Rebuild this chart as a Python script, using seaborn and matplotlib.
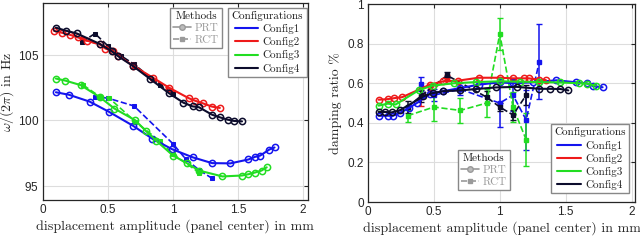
import numpy as np
import pandas as pd
import matplotlib
matplotlib.use('Agg')
from matplotlib import pyplot as plt
from matplotlib.lines import Line2D
import seaborn as sns

sns.set_style('white')
plt.rcParams['mathtext.fontset'] = 'cm'
plt.rcParams['axes.formatter.use_mathtext'] = True
plt.rcParams['font.family'] = ['Liberation Sans', 'DejaVu Sans']

colors = {'Config1': '#1414ee', 'Config2': '#ee1a1a', 'Config3': '#22dd22', 'Config4': '#0c0c2c'}

# ---- frequency, PRT (circles, solid)
f_prt = {
    'Config1': ([0.10, 0.20, 0.36, 0.51, 0.69, 0.84, 0.99, 1.15, 1.30, 1.44, 1.58, 1.63, 1.67, 1.74, 1.78],
                [102.15, 101.96, 101.43, 100.64, 99.6, 98.6, 97.8, 97.17, 96.72, 96.7, 97.0, 97.2, 97.3, 97.76, 97.92]),
    'Config2': ([0.085, 0.15, 0.21, 0.27, 0.34, 0.44, 0.48, 0.54, 0.58, 0.69, 0.85, 0.97, 1.12, 1.17, 1.23, 1.30, 1.36],
                [106.86, 106.7, 106.55, 106.35, 106.1, 105.85, 105.5, 105.3, 104.95, 104.2, 103.24, 102.5, 101.7, 101.5, 101.3, 101.05, 100.95]),
    'Config3': ([0.10, 0.17, 0.29, 0.44, 0.55, 0.71, 0.79, 0.87, 1.00, 1.11, 1.20, 1.38, 1.53, 1.58, 1.63, 1.68, 1.72],
                [103.2, 103.05, 102.7, 101.76, 100.9, 100.0, 99.2, 98.45, 97.3, 96.7, 96.15, 95.7, 95.77, 95.87, 96.0, 96.15, 96.4]),
    'Config4': ([0.10, 0.18, 0.26, 0.44, 0.53, 0.58, 0.69, 0.82, 0.97, 1.08, 1.15, 1.20, 1.30, 1.36, 1.42, 1.47, 1.53],
                [107.1, 106.86, 106.66, 105.84, 105.28, 104.9, 104.18, 103.2, 102.07, 101.35, 101.07, 101.0, 100.43, 100.23, 100.05, 99.95, 99.92]),
}
# ---- frequency, RCT (squares, dashed)
f_rct = {
    'Config1': ([0.4, 0.5, 0.7, 1.0, 1.1, 1.2, 1.3], [101.8, 101.7, 101.1, 98.2, 97.0, 96.2, 95.55]),
    'Config2': ([0.3, 0.5, 0.7, 1.0], [106.2, 105.6, 104.1, 102.2]),
    'Config3': ([0.31, 0.44, 0.51, 0.71, 0.9, 1.0, 1.2], [102.7, 101.8, 101.7, 99.9, 98.4, 97.4, 96.0]),
    'Config4': ([0.3, 0.4, 0.5, 0.6, 0.7, 0.9, 1.0], [106.0, 106.65, 105.7, 104.95, 104.3, 102.7, 102.05]),
}

# ---- damping, PRT
d_prt = {
    'Config1': ([0.08, 0.15, 0.19, 0.24, 0.31, 0.37, 0.47, 0.57, 0.70, 0.84, 1.00, 1.10, 1.25, 1.43, 1.58, 1.66, 1.71, 1.78],
                [0.436, 0.436, 0.436, 0.45, 0.475, 0.50, 0.547, 0.56, 0.576, 0.593, 0.605, 0.60, 0.605, 0.615, 0.605, 0.60, 0.585, 0.58]),
    'Config2': ([0.08, 0.15, 0.20, 0.26, 0.47, 0.57, 0.68, 0.84, 1.00, 1.10, 1.18, 1.22, 1.30, 1.35],
                [0.517, 0.52, 0.525, 0.53, 0.593, 0.61, 0.613, 0.628, 0.628, 0.625, 0.625, 0.625, 0.618, 0.616]),
    'Config3': ([0.08, 0.15, 0.21, 0.39, 0.49, 0.65, 0.82, 1.00, 1.15, 1.30, 1.46, 1.60, 1.66, 1.73],
                [0.487, 0.497, 0.493, 0.567, 0.588, 0.60, 0.606, 0.61, 0.608, 0.606, 0.604, 0.60, 0.598, 0.588]),
    'Config4': ([0.08, 0.13, 0.18, 0.24, 0.42, 0.49, 0.57, 0.70, 0.82, 0.97, 1.13, 1.30, 1.38, 1.46, 1.52],
                [0.455, 0.455, 0.453, 0.463, 0.534, 0.55, 0.56, 0.564, 0.571, 0.579, 0.582, 0.572, 0.572, 0.571, 0.564]),
}
# ---- damping, RCT (value, error)
d_rct = {
    'Config1': ([0.4, 0.5, 0.7, 1.0, 1.1, 1.2, 1.3], [0.596, 0.54, 0.57, 0.50, 0.54, 0.415, 0.71],
                [0.035, 0.03, 0.03, 0.12, 0.08, 0.15, 0.19]),
    'Config2': ([0.4, 0.6], [0.53, 0.62], [0.045, 0.02]),
    'Config3': ([0.3, 0.5, 0.7, 0.9, 1.0, 1.1, 1.2], [0.436, 0.48, 0.463, 0.50, 0.85, 0.48, 0.315],
                [0.03, 0.07, 0.065, 0.07, 0.08, 0.075, 0.135]),
    'Config4': ([0.3, 0.4, 0.6, 0.9, 1.0, 1.1, 1.2], [0.48, 0.535, 0.64, 0.53, 0.48, 0.44, 0.54],
                [0.03, 0.03, 0.015, 0.03, 0.02, 0.025, 0.05]),
}

fig = plt.figure(figsize=(6.4, 2.4), dpi=100)
ax1 = fig.add_axes([0.067, 0.167, 0.414, 0.821])
ax2 = fig.add_axes([0.575, 0.158, 0.417, 0.825])

for name in colors:
    c = colors[name]
    x, y = f_prt[name]
    sns.lineplot(x=x, y=y, ax=ax1, color=c, lw=1.5, marker='o', ms=4.5,
                 mfc='none', mec=c, mew=1.1, sort=False, zorder=3)
    x, y = f_rct[name]
    sns.lineplot(x=x, y=y, ax=ax1, color=c, lw=1.2, ls='--', marker='s', ms=3.5,
                 mec=c, sort=False, zorder=2)
    x, y = d_prt[name]
    sns.lineplot(x=x, y=y, ax=ax2, color=c, lw=1.5, marker='o', ms=4.5,
                 mfc='none', mec=c, mew=1.1, sort=False, zorder=3)
    x, y, e = d_rct[name]
    ax2.errorbar(x, y, yerr=e, color=c, lw=1.2, ls='--', marker='s', ms=3.5,
                 capsize=2, elinewidth=1.1, zorder=2)

ax1.set_xlim(0, 2.036)
ax1.set_ylim(93.9, 109.0)
ax1.set_yticks([95, 100, 105])
ax2.set_xlim(0, 2.025)
ax2.set_ylim(0, 1.0)
ax2.set_yticks([0, 0.2, 0.4, 0.6, 0.8, 1])
ax2.set_yticklabels(['0', '0.2', '0.4', '0.6', '0.8', '1'])

for ax in (ax1, ax2):
    ax.set_xticks([0, 0.5, 1, 1.5, 2])
    ax.set_xticklabels(['0', '0.5', '1', '1.5', '2'])
    ax.grid(True, color='#dddddd', lw=0.8)
    ax.tick_params(direction='in', length=3, top=True, right=True, labelsize=8.5,
                   colors='#262626', pad=3)
    for s in ax.spines.values():
        s.set_color('#262626')
        s.set_linewidth(0.9)
    ax.set_xlabel('displacement amplitude (panel center) in mm', fontfamily='cmr10',
                  fontsize=10, color='#262626', labelpad=2)

ax1.set_ylabel(r'$\omega/(2\pi)$ in Hz', fontfamily='cmr10', fontsize=10, color='#262626', labelpad=0)
ax1.yaxis.set_label_coords(-0.1, 0.55)
ax2.set_ylabel('damping ratio %', fontfamily='cmr10', fontsize=10, color='#262626', labelpad=4)

gray = '#9a9a9a'
meth_h = [Line2D([], [], color=gray, lw=1.2, marker='o', ms=4, mfc='#bbbbbb'),
          Line2D([], [], color=gray, lw=1.2, ls='--', marker='s', ms=3.5)]
conf_h = [Line2D([], [], color=colors[n], lw=1.5) for n in colors]

def add_legends(ax, meth_pos, conf_pos):
    leg_c = ax.legend(conf_h, list(colors), title='Configurations', loc='upper left',
                      bbox_to_anchor=conf_pos, prop={'family': 'cmr10', 'size': 8},
                      title_fontproperties={'family': 'cmr10', 'size': 8},
                      frameon=True, fancybox=False, edgecolor='#888888', framealpha=1,
                      handlelength=2.1, handletextpad=0.4, labelspacing=0.28,
                      borderpad=0.3, borderaxespad=0)
    leg_c.get_title().set_color('#1a1a1a')
    ax.add_artist(leg_c)
    leg_m = ax.legend(meth_h, ['PRT', 'RCT'], title='Methods', loc='upper left',
                      bbox_to_anchor=meth_pos, prop={'family': 'cmr10', 'size': 8},
                      title_fontproperties={'family': 'cmr10', 'size': 8},
                      frameon=True, fancybox=False, edgecolor='#888888', framealpha=1,
                      handlelength=1.6, handletextpad=0.3, labelspacing=0.2,
                      borderpad=0.3, borderaxespad=0, labelcolor=gray)
    leg_m.get_title().set_color('#1a1a1a')

add_legends(ax1, (0.48, 0.975), (0.70, 0.975))
add_legends(ax2, (0.337, 0.263), (0.685, 0.394))

fig.savefig('out.png', dpi=100)
